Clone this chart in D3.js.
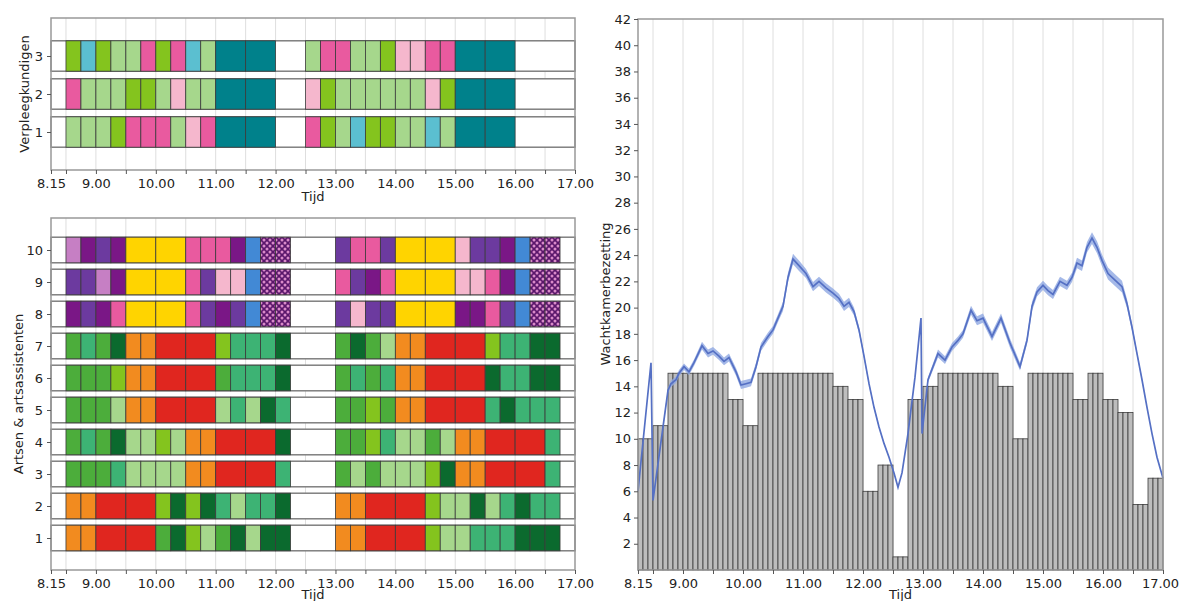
<!DOCTYPE html>
<html>
<head>
<meta charset="utf-8">
<script src="https://cdn.jsdelivr.net/npm/d3@7"></script>
<style>
  body { margin: 0; background: #fff; }
  text { font-family: "DejaVu Sans", sans-serif; }
</style>
</head>
<body>
<svg id="chart" width="1179" height="601"></svg>
<script>
// ---- data ----
// time axis (hours), label 8.15 = 8:15
const timeTicks = [8.25, 8.5, 9, 9.5, 10, 10.5, 11, 11.5, 12, 12.5, 13, 13.5, 14, 14.5, 15, 15.5, 16, 16.5, 17];
const gridTimes = [8.5, 9, 9.5, 10, 10.5, 11, 11.5, 12, 12.5, 13, 13.5, 14, 14.5, 15, 15.5, 16, 16.5];

// schedule codes, one token per 15 min slot (R, Y, T are 30 min blocks)
const nurseIds = [3, 2, 1];
const nurseAM = [
  "a c a l l p a p c l T T",
  "p l l l a a l q l l T T",
  "l l l a p p p l q p T T"
];
const nursePM = [
  "l p p l l a q q p p T T",
  "q a l l l l l l q a T T",
  "p a l c a a l l c l T T"
];
const nurseStarts = [8.5, 12.5];

const doctorIds = [10, 9, 8, 7, 6, 5, 4, 3, 2, 1];
const doctorAM = [
  "h v m v Y Y p p p v b X X",
  "m m h v Y Y p m q q b X X",
  "v m v p Y Y p m v m b X X",
  "g s g d o o R R a s s s d",
  "g g g a o o R R g s s s d",
  "g g g l o o R R l s l d s",
  "g s g d l l a l o o R R d",
  "g g g s l l l l o o R R s",
  "o o R R a d a d s l s s d",
  "o o R R g d a l g d l d d"
];
const doctorPM = [
  "m p p m Y Y q m m v b X X",
  "p m v p Y Y q q p v b X X",
  "m q m m Y Y v v p m b X X",
  "g d g l o o R R a s s d d",
  "g s g s o o R R d s s d d",
  "g g a g o o R R s d s s s",
  "g g a s l l g l o o R R s",
  "g l g l l l a d o o R R s",
  "o o R R a l l d l s d s s",
  "o o R R a l l s s s d d d"
];
const doctorStarts = [8.5, 13.0];

const codeColors = {
  a: "#84c41e", l: "#a6d78c", c: "#5bbfd0", p: "#e95a9f", q: "#f5b7cd",
  T: "#00818b", g: "#4cad3b", s: "#3db374", d: "#0b6a2e", o: "#f28b1f",
  R: "#e0261f", m: "#6c3a9f", v: "#7a1786", h: "#c67fc4", b: "#4289d5",
  Y: "#ffd400", X: "url(#hatch)"
};
const longCodes = ["R", "Y", "T"];

// waiting room occupancy: 15 min blocks starting 8:15
const occStart = 8.25;
const occValues = [10, 11, 15, 15, 15, 15, 13, 11, 15, 15, 15, 15, 15, 14, 13, 6, 8,
                   1, 13, 14, 15, 15, 15, 15, 14, 10, 15, 15, 15, 13, 15, 13, 12, 5, 7];

// mean occupancy line: minutes after 8:15, value, half width of band
const lineMin = [0, 13, 15, 30, 33, 38, 41, 46, 51, 56, 64, 70, 75, 81, 86, 91, 98, 103, 108, 113,
  118, 123, 130, 135, 140, 145, 150, 155, 161, 168, 175, 181, 188, 195, 201, 206, 211, 216, 221, 226,
  231, 236, 241, 246, 251, 256, 260, 264, 270, 277, 283, 284, 290, 300, 307, 314, 320, 325, 333, 339,
  345, 354, 363, 372, 382, 389, 394, 399, 405, 410, 415, 422, 429, 434, 439, 444, 449, 454, 459, 464,
  470, 477, 484, 489, 494, 499, 504, 509, 514, 519, 525];
const lineVal = [6.0, 15.8, 5.3, 13.7, 14.2, 14.5, 15.0, 15.5, 15.1, 15.8, 17.1, 16.5, 16.7, 16.3, 15.9, 16.2, 15.1, 14.1, 14.2, 14.3,
  15.5, 17.0, 17.8, 18.3, 19.2, 20.1, 22.3, 23.7, 23.2, 22.6, 21.6, 22.0, 21.5, 21.1, 20.7, 20.1, 20.4, 19.7, 18.3, 16.3,
  14.2, 12.4, 10.9, 9.65, 8.6, 7.4, 6.3, 7.4, 10.4, 14.7, 19.2, 10.4, 14.5, 16.5, 16.0, 17.0, 17.5, 18.0, 19.8, 19.0,
  19.2, 17.8, 19.2, 17.3, 15.5, 17.5, 20.1, 21.2, 21.7, 21.3, 21.0, 22.0, 21.7, 22.3, 23.4, 23.2, 24.6, 25.3, 24.6, 23.6,
  22.6, 22.1, 21.6, 20.3, 18.5, 16.5, 14.5, 12.4, 10.4, 8.6, 7.0];
const lineCI = [0.05, 0.05, 0.05, 0.2, 0.25, 0.25, 0.25, 0.25, 0.25, 0.25, 0.3, 0.3, 0.3, 0.3, 0.3, 0.3, 0.3, 0.3, 0.3, 0.3,
  0.3, 0.3, 0.3, 0.3, 0.3, 0.35, 0.35, 0.4, 0.4, 0.35, 0.35, 0.35, 0.35, 0.35, 0.35, 0.35, 0.35, 0.3, 0.25, 0.18,
  0.14, 0.12, 0.09, 0.07, 0.05, 0.05, 0.05, 0.05, 0.05, 0.05, 0.05, 0.05, 0.2, 0.3, 0.3, 0.3, 0.3, 0.3, 0.35, 0.35,
  0.35, 0.35, 0.35, 0.35, 0.3, 0.3, 0.35, 0.35, 0.35, 0.35, 0.35, 0.35, 0.35, 0.35, 0.4, 0.4, 0.4, 0.45, 0.45, 0.45,
  0.45, 0.45, 0.45, 0.35, 0.25, 0.15, 0.12, 0.09, 0.07, 0.05, 0.05];

// ---- drawing ----
const svg = d3.select("#chart");

// hatch pattern for the crossed blocks
const pat = svg.append("defs").append("pattern")
  .attr("id", "hatch")
  .attr("patternUnits", "userSpaceOnUse")
  .attr("width", 6).attr("height", 6);
pat.append("rect").attr("width", 6).attr("height", 6).attr("fill", "#5a166b");
[[0, 0], [6, 0], [0, 6], [6, 6], [3, 3]].forEach(p => {
  pat.append("circle").attr("cx", p[0]).attr("cy", p[1]).attr("r", 1.5).attr("fill", "#d98ac9");
});

const tickFmt = t => t === 8.25 ? "8.15" : (Number.isInteger(t) ? t + ".00" : "");

const xL = d3.scaleLinear().domain([8.25, 17]).range([51, 575]);

function drawGrid(g, x, y0, y1) {
  g.selectAll("line.grid")
    .data(gridTimes)
    .enter().append("line")
    .attr("class", "grid")
    .attr("x1", d => x(d)).attr("x2", d => x(d))
    .attr("y1", y0).attr("y2", y1)
    .attr("stroke", "#dedede").attr("stroke-width", 1);
}

function styleAxis(g) {
  g.select(".domain").remove();
  g.selectAll(".tick line").attr("stroke", "#555");
  g.selectAll(".tick text").attr("fill", "#222").style("font-size", "13px");
}

function drawFrame(g, x0, x1, y0, y1) {
  g.append("rect")
    .attr("x", x0).attr("y", y0)
    .attr("width", x1 - x0).attr("height", y1 - y0)
    .attr("fill", "none").attr("stroke", "#999").attr("stroke-width", 1.5);
}

// build block list for one row
function rowBlocks(id, am, pm, starts) {
  const out = [];
  [am, pm].forEach((str, k) => {
    let t = starts[k];
    str.split(" ").forEach(code => {
      const dur = longCodes.includes(code) ? 0.5 : 0.25;
      out.push({ id: id, code: code, t0: t, t1: t + dur });
      t += dur;
    });
  });
  return out;
}

function schedulePanel(ids, am, pm, starts, y, y0, y1, ylabel, labelX) {
  const g = svg.append("g");
  drawGrid(g, xL, y0, y1);

  // white row strips across the full width
  g.selectAll("rect.strip")
    .data(ids)
    .enter().append("rect")
    .attr("class", "strip")
    .attr("x", xL(8.25)).attr("width", xL(17) - xL(8.25))
    .attr("y", d => y(d + 0.4)).attr("height", d => y(d - 0.4) - y(d + 0.4))
    .attr("fill", "#fff").attr("stroke", "#777").attr("stroke-width", 1.4);

  const blocks = [];
  ids.forEach((id, i) => blocks.push(...rowBlocks(id, am[i], pm[i], starts)));

  g.selectAll("rect.block")
    .data(blocks)
    .enter().append("rect")
    .attr("class", "block")
    .attr("x", d => xL(d.t0)).attr("width", d => xL(d.t1) - xL(d.t0))
    .attr("y", d => y(d.id + 0.4)).attr("height", d => y(d.id - 0.4) - y(d.id + 0.4))
    .attr("fill", d => codeColors[d.code])
    .attr("stroke", "#3a3a3a").attr("stroke-width", 0.8);

  drawFrame(g, xL(8.25), xL(17), y0, y1);

  g.append("g")
    .attr("transform", `translate(0,${y1})`)
    .call(d3.axisBottom(xL).tickValues(timeTicks).tickFormat(tickFmt).tickSize(4).tickPadding(5))
    .call(styleAxis);

  g.append("g")
    .attr("transform", `translate(${xL(8.25)},0)`)
    .call(d3.axisLeft(y).tickValues(ids).tickFormat(d3.format("d")).tickSize(4).tickPadding(4))
    .call(styleAxis);

  g.append("text")
    .attr("transform", `translate(${labelX},${(y0 + y1) / 2}) rotate(-90)`)
    .attr("text-anchor", "middle").attr("dy", "0.35em")
    .attr("fill", "#222").style("font-size", "13px")
    .text(ylabel);

  g.append("text")
    .attr("x", (xL(8.25) + xL(17)) / 2).attr("y", Math.min(y1 + 31, 599))
    .attr("text-anchor", "middle")
    .attr("fill", "#222").style("font-size", "13px")
    .text("Tijd");
}

const yN = d3.scaleLinear().domain([0, 4]).range([170, 18]);
schedulePanel(nurseIds, nurseAM, nursePM, nurseStarts, yN, 18, 170, "Verpleegkundigen", 24);

const yD = d3.scaleLinear().domain([0, 11]).range([570, 218]);
schedulePanel(doctorIds, doctorAM, doctorPM, doctorStarts, yD, 218, 570, "Artsen & artsassistenten", 18);

// ---- right panel: waiting room ----
const xR = d3.scaleLinear().domain([8.25, 17]).range([638, 1163]);
const yR = d3.scaleLinear().domain([0, 42]).range([570, 19]);
const gR = svg.append("g");
drawGrid(gR, xR, 19, 570);

// each 15 min block is drawn as three 5 min bars
const bars = [];
occValues.forEach((v, i) => {
  for (let k = 0; k < 3; k++) {
    const t0 = occStart + i * 0.25 + k * 5 / 60;
    bars.push({ t0: t0, t1: t0 + 5 / 60, v: v });
  }
});
gR.selectAll("rect.bar")
  .data(bars)
  .enter().append("rect")
  .attr("class", "bar")
  .attr("x", d => xR(d.t0)).attr("width", d => xR(d.t1) - xR(d.t0))
  .attr("y", d => yR(d.v)).attr("height", d => yR(0) - yR(d.v))
  .attr("fill", "#bdbdbd").attr("stroke", "#3c3c3c").attr("stroke-width", 0.8);

const pts = lineMin.map((m, i) => ({ t: 8.25 + m / 60, v: lineVal[i], ci: lineCI[i] }));
gR.append("path")
  .datum(pts)
  .attr("d", d3.area().x(d => xR(d.t)).y0(d => yR(d.v - d.ci)).y1(d => yR(d.v + d.ci)))
  .attr("fill", "#8ea7e2").attr("opacity", 0.8);
gR.append("path")
  .datum(pts)
  .attr("d", d3.line().x(d => xR(d.t)).y(d => yR(d.v)))
  .attr("fill", "none").attr("stroke", "#5570c4").attr("stroke-width", 1.7);

drawFrame(gR, xR(8.25), xR(17), 19, 570);

gR.append("g")
  .attr("transform", "translate(0,570)")
  .call(d3.axisBottom(xR).tickValues(timeTicks).tickFormat(tickFmt).tickSize(4).tickPadding(5))
  .call(styleAxis)
  .call(g => g.selectAll(".tick text").filter(d => d === 17).attr("dx", "-3"));

gR.append("g")
  .attr("transform", `translate(${xR(8.25)},0)`)
  .call(d3.axisLeft(yR).tickValues(d3.range(2, 43, 2)).tickFormat(d3.format("d")).tickSize(4).tickPadding(3))
  .call(styleAxis);

gR.append("text")
  .attr("transform", "translate(605,294) rotate(-90)")
  .attr("text-anchor", "middle").attr("dy", "0.35em")
  .attr("fill", "#222").style("font-size", "13px")
  .text("Wachtkamerbezetting");

gR.append("text")
  .attr("x", (xR(8.25) + xR(17)) / 2).attr("y", 599)
  .attr("text-anchor", "middle")
  .attr("fill", "#222").style("font-size", "13px")
  .text("Tijd");
</script>
</body>
</html>
